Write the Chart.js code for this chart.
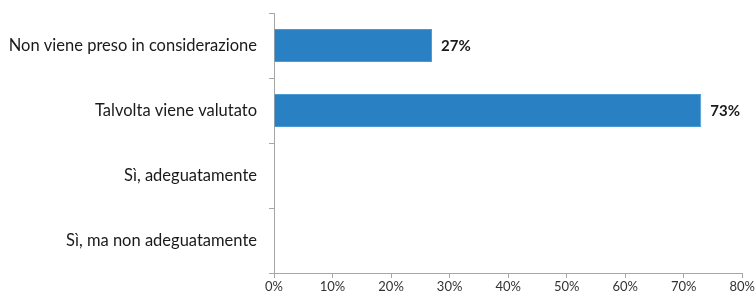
<!DOCTYPE html>
<html>
<head>
<meta charset="utf-8">
<script src="https://cdn.jsdelivr.net/npm/chart.js@4/dist/chart.umd.min.js"></script>
<style>
  html, body { margin: 0; padding: 0; background: #fff; }
  #wrap { width: 756px; height: 299px; }
</style>
</head>
<body>
<div id="wrap"><canvas id="bar"></canvas></div>
<script>
var categories = ['Non viene preso in considerazione', 'Talvolta viene valutato', 'Sì, adeguatamente', 'Sì, ma non adeguatamente'];
var values = [27, 73, 0, 0];
var xTicks = [0, 10, 20, 30, 40, 50, 60, 70, 80];

// scrive la percentuale in grassetto dopo ogni barra
var valueLabels = {
  id: 'valueLabels',
  afterDatasetsDraw: function(chart) {
    var ctx = chart.ctx;
    var meta = chart.getDatasetMeta(0);
    ctx.save();
    ctx.font = 'bold 15px Lato';
    ctx.fillStyle = '#1a1a1a';
    ctx.textBaseline = 'middle';
    for (var i = 0; i < meta.data.length; i++) {
      if (!values[i]) continue;
      var bar = meta.data[i];
      ctx.fillText(values[i] + '%', bar.x + 9, bar.y + 1);
    }
    ctx.restore();
  }
};

var chart = new Chart(document.getElementById('bar'), {
  type: 'bar',
  data: {
    labels: categories,
    datasets: [{
      data: values,
      backgroundColor: '#2981C3',
      borderColor: '#4A9AD4',
      borderWidth: 1,
      barPercentage: 0.73,
      categoryPercentage: 0.7
    }]
  },
  options: {
    indexAxis: 'y',
    responsive: true,
    maintainAspectRatio: false,
    animation: false,
    layout: { padding: { top: 13, right: 13, left: 0, bottom: 0 } },
    plugins: {
      legend: { display: false },
      tooltip: { enabled: false }
    },
    scales: {
      x: {
        min: 0,
        max: 80,
        afterBuildTicks: function(scale) {
          scale.ticks = xTicks.map(function(v) { return { value: v }; });
        },
        afterFit: function(scale) { scale.height = 26; },
        grid: {
          drawOnChartArea: false,
          drawTicks: true,
          tickLength: 5,
          color: '#A6A6A6'
        },
        border: { color: '#A6A6A6' },
        ticks: {
          padding: 1,
          color: '#333333',
          font: { family: 'Lato', size: 13 },
          callback: function(v) { return v + '%'; }
        }
      },
      y: {
        afterFit: function(scale) {
          scale.width = 274;
          scale.paddingTop = 0;
          scale.paddingBottom = 0;
        },
        grid: {
          offset: true,
          drawOnChartArea: false,
          drawTicks: true,
          tickLength: 5,
          color: '#A6A6A6'
        },
        border: { color: '#A6A6A6' },
        ticks: {
          padding: 12,
          color: '#1a1a1a',
          font: { family: 'Lato', size: 16.5 }
        }
      }
    }
  },
  plugins: [valueLabels]
});
</script>
</body>
</html>
